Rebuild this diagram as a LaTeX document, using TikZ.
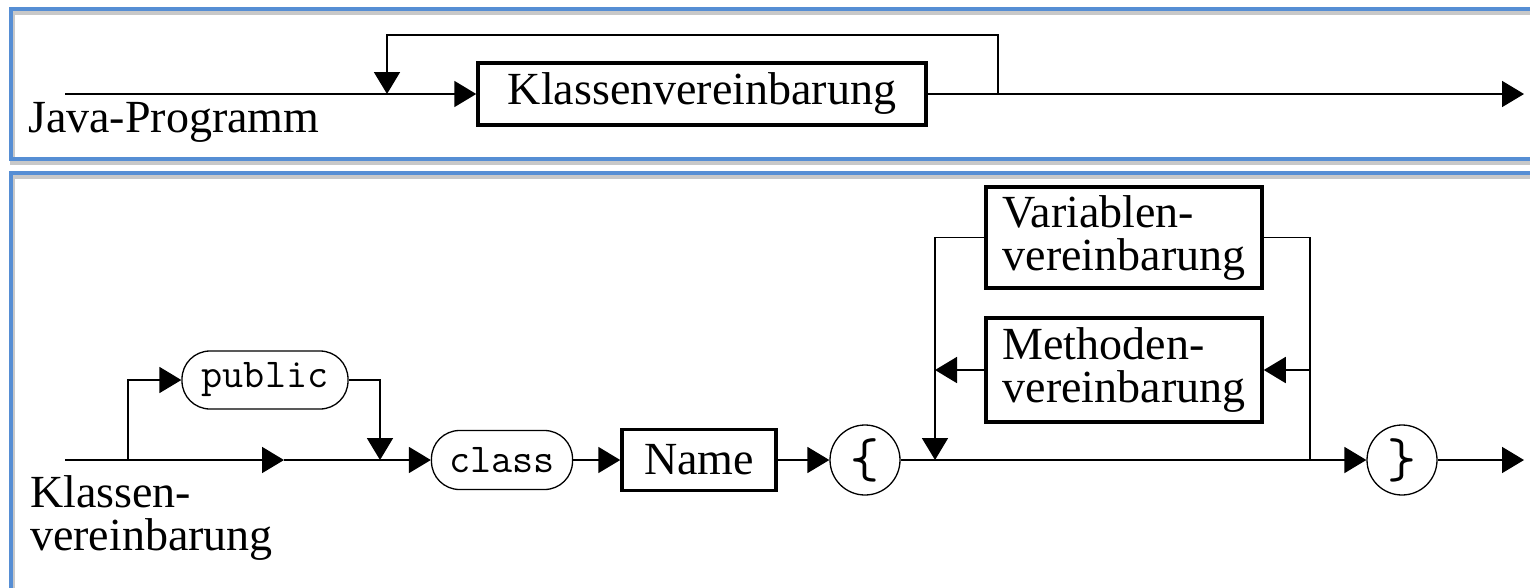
\documentclass[tikz,border=0pt]{standalone}
\usepackage{fontspec}
\setmainfont{Liberation Serif}
\usetikzlibrary{arrows.meta}
\definecolor{panelblue}{RGB}{86,142,212}
\definecolor{shadowgray}{RGB}{200,200,200}
\tikzset{
  conn/.style={line width=1.8pt, line join=miter},
  arr/.style={-{Triangle[length=22pt,width=26pt]}},
  nonterm/.style={draw, line width=3.5pt, inner sep=0pt, align=left, anchor=center},
  term/.style={draw, line width=1.3pt, rounded corners=28pt, inner sep=0pt,
               font=\fontsize{41}{44}\ttfamily},
  circterm/.style={draw, circle, line width=1.3pt, minimum size=70pt, inner sep=0pt,
               font=\fontsize{56}{60}\ttfamily},
  panel/.style={draw=panelblue, line width=4pt},
  panelshadow/.style={draw=shadowgray, line width=5pt},
  label/.style={inner sep=0pt, align=left}
}
\begin{document}
\begin{tikzpicture}[x=1pt, y=-1pt, font=\fontsize{46}{43}\selectfont]
\useasboundingbox (0,0) rectangle (1530,587);
\clip (0,0) rectangle (1530,587);
\fill[white] (0,0) rectangle (1530,587);

% panels
\draw[panelshadow] (12.5,12.5) rectangle (1580,162.5);
\draw[panelshadow] (12.5,176.5) rectangle (1580,640);
\draw[panel] (10.5,9) rectangle (1580,159);
\draw[panel] (10.5,173) rectangle (1580,640);

% ---------- top diagram ----------
\coordinate (s1) at (65,94);
\coordinate (j1) at (387,94);
\coordinate (r1) at (998,94);
\coordinate (t1r) at (998,35);
\coordinate (t1l) at (387,35);
\coordinate (e1) at (1524,94);

\node[label, anchor=base west] (jp) at (28,132) {Java-Programm};
\node[nonterm, minimum width=448pt, minimum height=62pt] (K1) at (702,94) {Klassenvereinbarung};

\draw[conn, arr] (s1) -- (K1);
\draw[conn, arr] (K1) -- (e1);
\draw[conn, arr] (r1) -- (t1r) -- (t1l) -- (j1);

% ---------- bottom diagram ----------
\coordinate (s2) at (65,460);
\coordinate (b1) at (128,460);
\coordinate (m1) at (284,460);
\coordinate (b2) at (380,460);
\coordinate (j2) at (935,460);
\coordinate (j3) at (1310,460);
\coordinate (e2) at (1524,460);

\node[label, anchor=north west] (kv) at (30,475) {Klassen-\\vereinbarung};

\node[term, minimum width=166pt, minimum height=58pt] (pub) at (265,380) {public};
\node[term, minimum width=141pt, minimum height=59pt] (cls) at (502,460) {class};
\node[nonterm, minimum width=154pt, minimum height=61pt, align=center] (nm) at (699,460) {Name};
\node[circterm] (lb) at (865,460) {\{};
\node[circterm] (rb) at (1402,460) {\}};
\node[nonterm, minimum width=276pt, minimum height=101pt] (var) at (1124,237.5) {Variablen-\\vereinbarung};
\node[nonterm, minimum width=276pt, minimum height=104pt] (meth) at (1124,370) {Methoden-\\vereinbarung};

\coordinate (mr) at (j3 |- meth);
\coordinate (ml) at (j2 |- meth);

\draw[conn] (s2) -- (b1);
\draw[conn, arr] (b1) -- (m1);
\draw[conn, arr] (m1) -- (cls);
\draw[conn, arr] (b1) |- (pub);
\draw[conn, arr] (pub) -| (b2);
\draw[conn, arr] (cls) -- (nm);
\draw[conn, arr] (nm) -- (lb);
\draw[conn] (lb) -- (j3);
\draw[conn, arr] (j3) -- (rb);
\draw[conn, arr] (rb) -- (e2);
\draw[conn] (j3) |- (var);
\draw[conn, arr] (var) -| (j2);
\draw[conn, arr] (mr) -- (meth);
\draw[conn, arr] (meth) -- (ml);
\end{tikzpicture}
\end{document}
